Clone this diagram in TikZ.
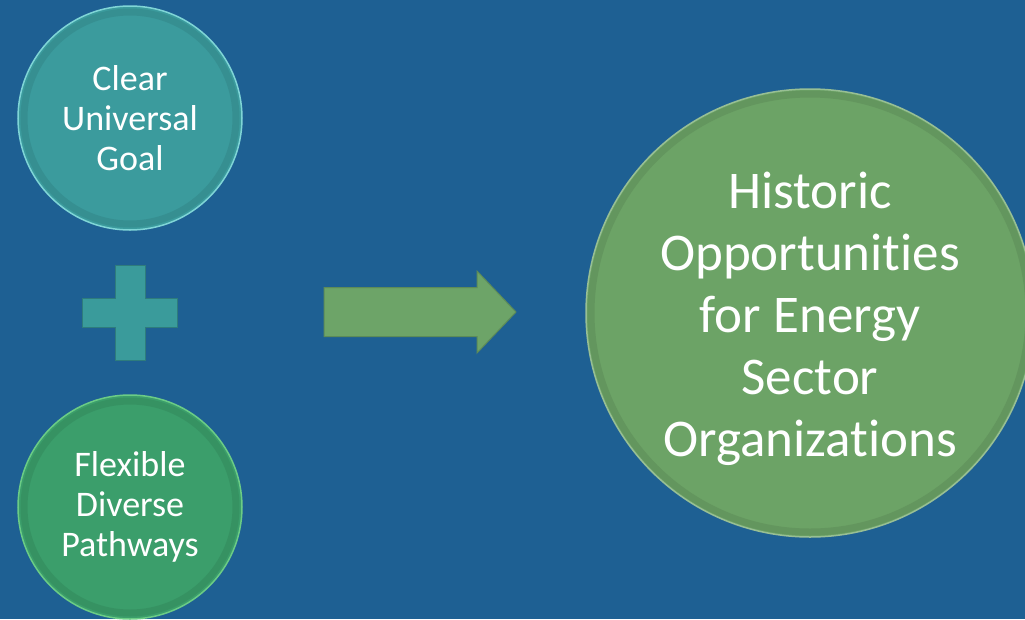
\documentclass[tikz,border=0pt]{standalone}
\usepackage{fontspec}
\setmainfont{Carlito}[Ligatures=NoCommon]
\usepackage{tikz}
\usetikzlibrary{positioning,calc}
\usepackage{xcolor}
\definecolor{bg}{HTML}{1E6093}
\definecolor{col1}{HTML}{3B9B9D}
\definecolor{col2}{HTML}{3B9E6B}
\definecolor{col3}{HTML}{6CA366}
\colorlet{rim1}{col1!70!cyan!60!white}
\colorlet{rim2}{col2!75!green!70!white}
\colorlet{rim3}{col3!70!white}
\definecolor{plusc}{HTML}{3A9B9B}
\definecolor{arrc}{HTML}{6DA468}
\tikzset{bevel/.style 2 args={path picture={\draw[#1!75!black, opacity=.3, line width=7pt]
  (path picture bounding box.center) circle (#2);}}}

\begin{document}
\begin{tikzpicture}[x=1pt, y=1pt, node distance=194.5pt, text=white]
\tikzstyle{bubble}=[circle, inner sep=0pt, align=center, line width=1.5pt, minimum size=224pt, font=\fontsize{36}{40}\selectfont]
\tikzstyle{big bubble}=[bubble, minimum size=448pt]
\fill[bg] (0,0) rectangle (1025,-619);
\useasboundingbox (0,0) rectangle (1025,-619);
\node[bubble, fill=col1, draw=rim1, bevel={col1}{106pt}] (goal) at (130,-118) {Clear\\Universal\\Goal};
\coordinate[below of=goal] (plus);
\node[bubble, fill=col2, draw=rim2, bevel={col2}{106pt}] (paths) [below of=plus] {Flexible\\Diverse\\Pathways};
\node[big bubble, fill=col3, draw=rim3, bevel={col3}{219pt}] (hist) at (810,-313) {};
\node[align=center, font=\fontsize{53}{62}\selectfont] (histtext) at ([yshift=-6pt]hist.center)
  {Historic\\Opportunities\\for Energy\\Sector\\Organizations};
\coordinate (arr) at (420,-312);
% plus sign
\begin{scope}[shift={(plus)}]
\filldraw[fill=plusc, draw=plusc!80!black, line width=1pt]
  (-15,47.5) -- (15,47.5) -- (15,14.5) -- (47.5,14.5) -- (47.5,-14.5) -- (15,-14.5)
  -- (15,-47.5) -- (-15,-47.5) -- (-15,-14.5) -- (-47.5,-14.5) -- (-47.5,14.5) -- (-15,14.5) -- cycle;
\end{scope}
% block arrow
\begin{scope}[shift={(arr)}]
\filldraw[fill=arrc, draw=arrc!85!black, line width=1pt]
  (-96,24.5) -- (57,24.5) -- (57,41) -- (96,0) -- (57,-41) -- (57,-24.5) -- (-96,-24.5) -- cycle;
\end{scope}
\end{tikzpicture}
\end{document}
